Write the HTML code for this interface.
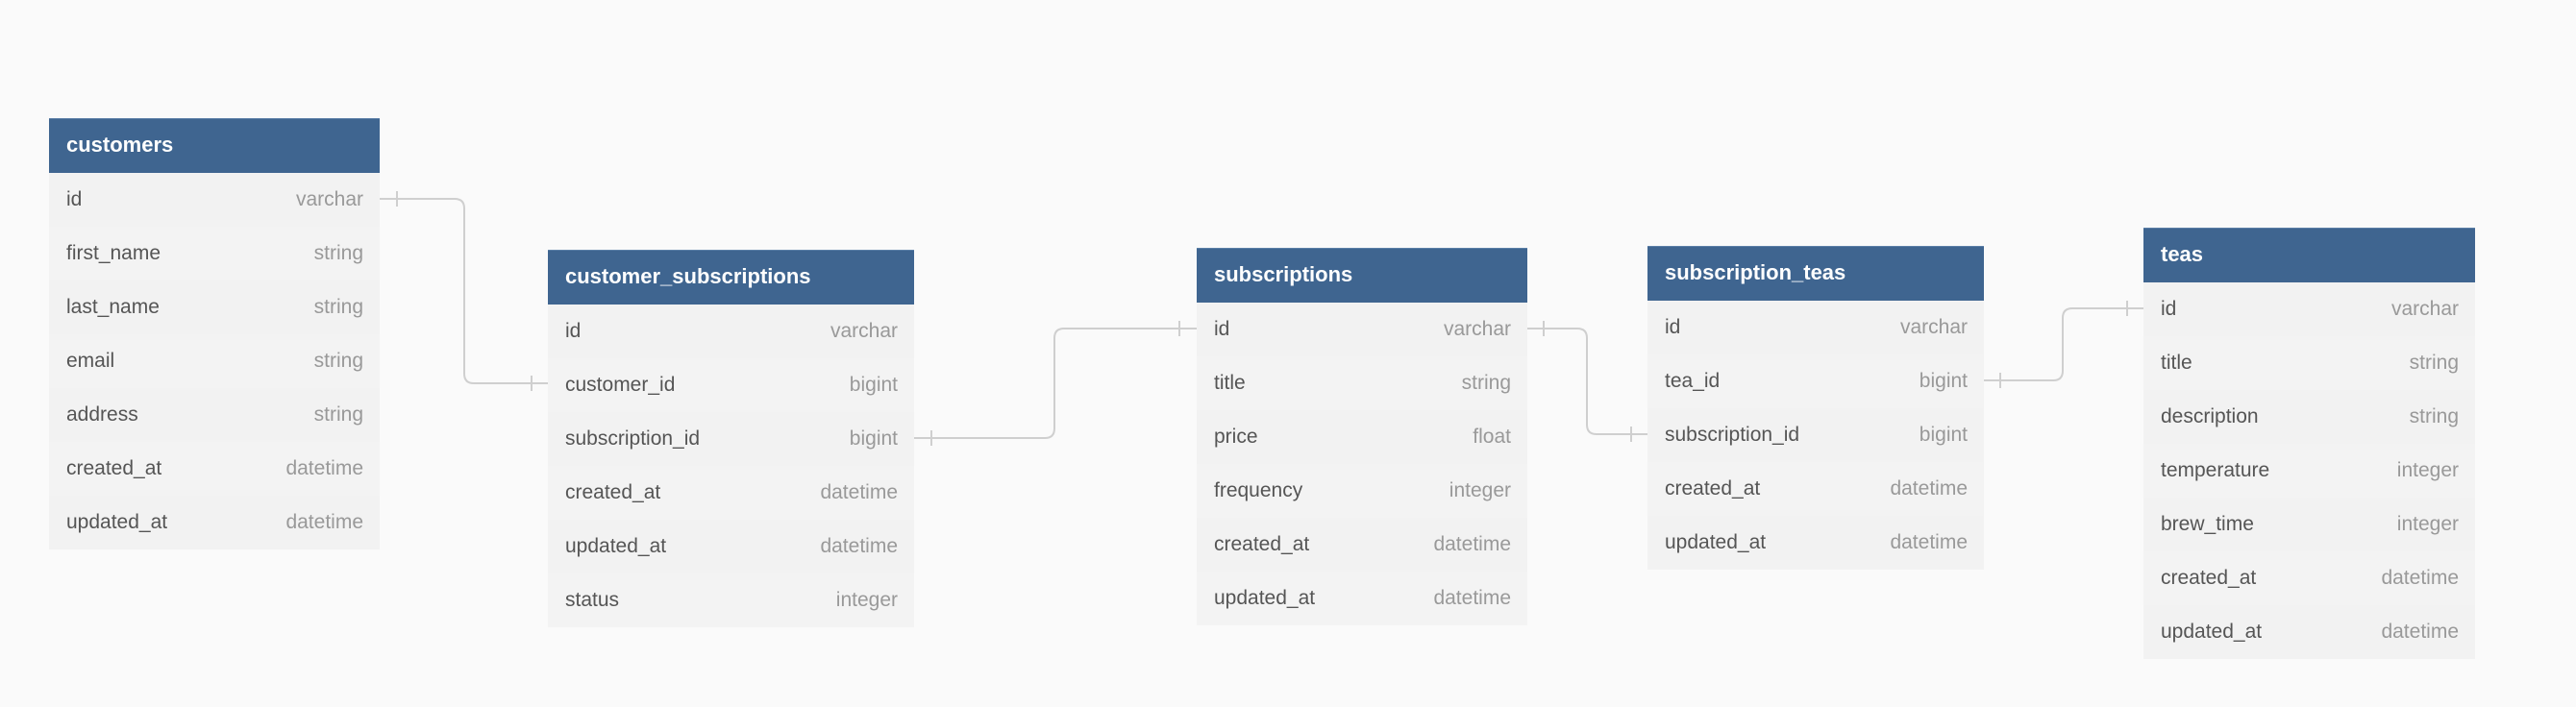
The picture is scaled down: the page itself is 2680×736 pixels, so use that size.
<!DOCTYPE html>
<html><head><meta charset="utf-8"><style>
body{margin:0;width:2680px;height:736px;background:#fafafa;position:relative;overflow:hidden;font-family:"Liberation Sans",sans-serif}
.t{position:absolute;background:#f2f2f2}
.h{height:57px;background:#3f6590;color:#fff;font-weight:bold;font-size:22px;line-height:53px;padding-left:18px;box-sizing:border-box;border-top:1px solid #5a7ea6}
.r{height:56px;line-height:56px;font-size:21px;color:#555;padding:0 17px 0 18px;display:flex;justify-content:space-between}
.r:nth-child(odd){background:#f3f3f3}
.r span{color:#999}
svg{position:absolute;left:0;top:0}
</style></head><body>
<svg width="2680" height="736" fill="none" stroke="#cfcfcf" stroke-width="2">
<path d="M395 207 H473 Q483 207 483 217 V389 Q483 399 493 399 H570"/>
<path d="M413 199 V215 M553 391 V407"/>
<path d="M951 456 H1087 Q1097 456 1097 446 V352 Q1097 342 1107 342 H1245"/>
<path d="M969 448 V464 M1227 334 V350"/>
<path d="M1589 342 H1641 Q1651 342 1651 352 V442 Q1651 452 1661 452 H1714"/>
<path d="M1606 334 V350 M1697 444 V460"/>
<path d="M2064 396 H2136 Q2146 396 2146 386 V331 Q2146 321 2156 321 H2230"/>
<path d="M2081 388 V404 M2213 313 V329"/>
</svg>
<div class="t" style="left:51px;top:123px;width:344px">
<div class="h">customers</div>
<div class="r">id<span>varchar</span></div><div class="r">first_name<span>string</span></div><div class="r">last_name<span>string</span></div><div class="r">email<span>string</span></div><div class="r">address<span>string</span></div><div class="r">created_at<span>datetime</span></div><div class="r">updated_at<span>datetime</span></div>
</div>
<div class="t" style="left:570px;top:260px;width:381px">
<div class="h">customer_subscriptions</div>
<div class="r">id<span>varchar</span></div><div class="r">customer_id<span>bigint</span></div><div class="r">subscription_id<span>bigint</span></div><div class="r">created_at<span>datetime</span></div><div class="r">updated_at<span>datetime</span></div><div class="r">status<span>integer</span></div>
</div>
<div class="t" style="left:1245px;top:258px;width:344px">
<div class="h">subscriptions</div>
<div class="r">id<span>varchar</span></div><div class="r">title<span>string</span></div><div class="r">price<span>float</span></div><div class="r">frequency<span>integer</span></div><div class="r">created_at<span>datetime</span></div><div class="r">updated_at<span>datetime</span></div>
</div>
<div class="t" style="left:1714px;top:256px;width:350px">
<div class="h">subscription_teas</div>
<div class="r">id<span>varchar</span></div><div class="r">tea_id<span>bigint</span></div><div class="r">subscription_id<span>bigint</span></div><div class="r">created_at<span>datetime</span></div><div class="r">updated_at<span>datetime</span></div>
</div>
<div class="t" style="left:2230px;top:237px;width:345px">
<div class="h">teas</div>
<div class="r">id<span>varchar</span></div><div class="r">title<span>string</span></div><div class="r">description<span>string</span></div><div class="r">temperature<span>integer</span></div><div class="r">brew_time<span>integer</span></div><div class="r">created_at<span>datetime</span></div><div class="r">updated_at<span>datetime</span></div>
</div>
</body></html>
